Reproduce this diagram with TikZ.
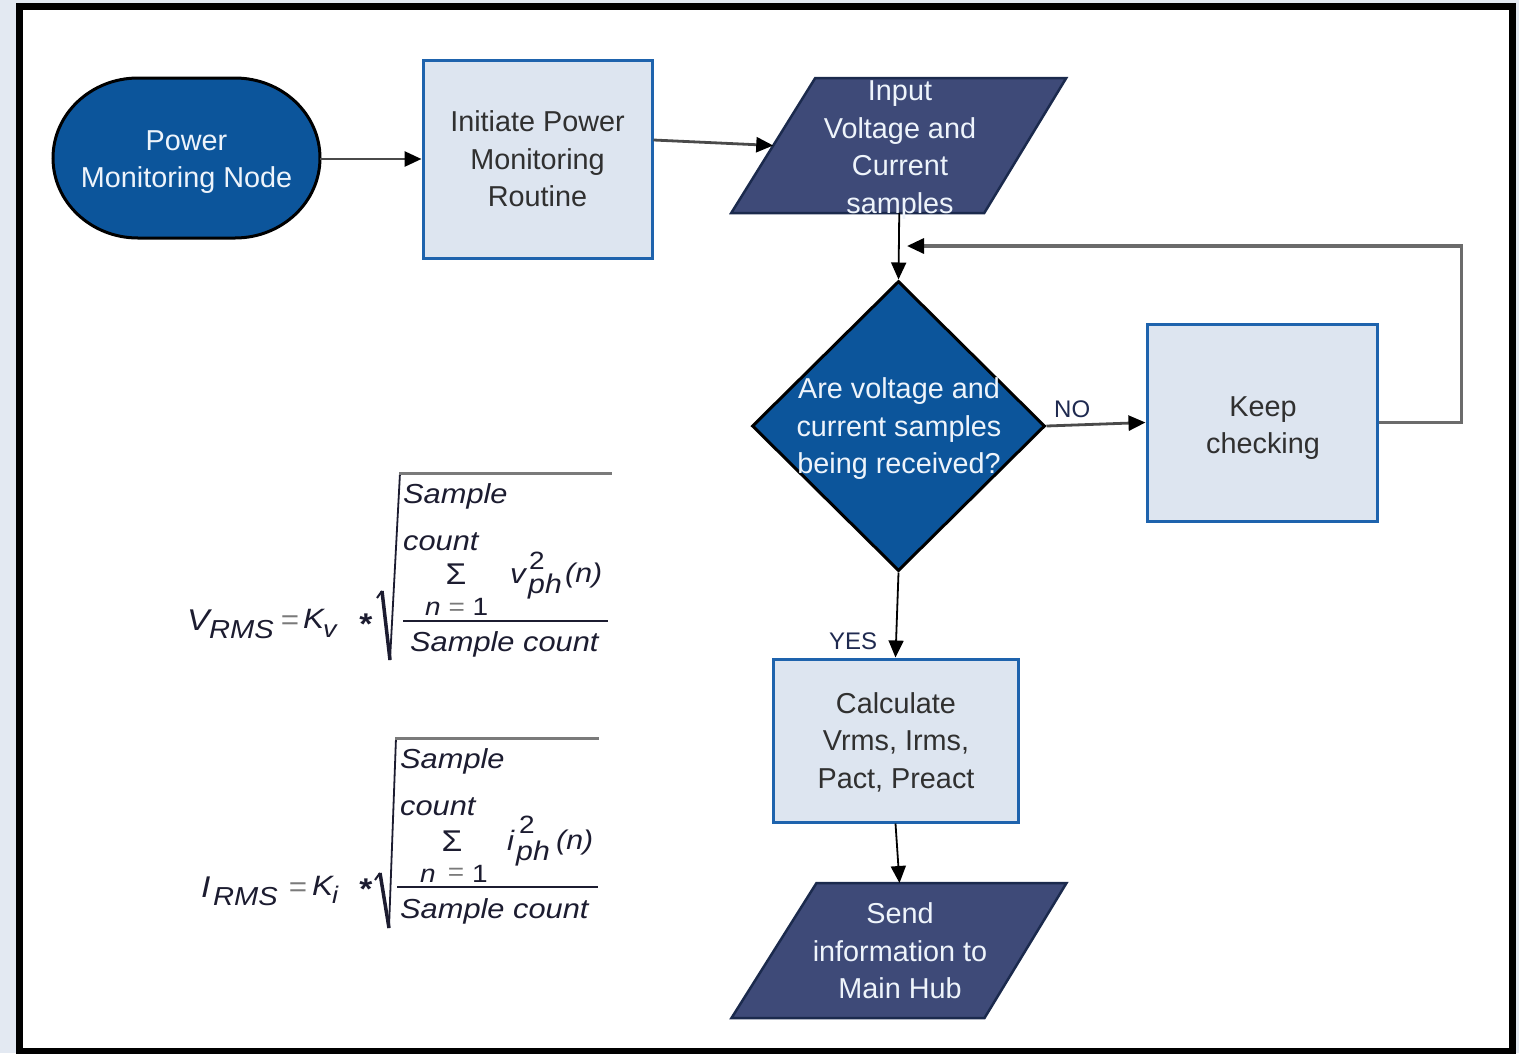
\documentclass[tikz,border=0pt]{standalone}
\usepackage{fontspec}
\setmainfont{Liberation Sans}
\newfontfamily\eqfont{Liberation Sans}[FakeStretch=1.12]
\usetikzlibrary{arrows.meta,shapes.geometric,calc}

\definecolor{pagebg}{HTML}{E3E9F2}
\definecolor{deepblue}{HTML}{0C559B}
\definecolor{slate}{HTML}{3E4A78}
\definecolor{slateline}{HTML}{1B2A4D}
\definecolor{procfill}{HTML}{DDE5F0}
\definecolor{procline}{HTML}{1E63AD}
\definecolor{proctext}{HTML}{303030}
\definecolor{lighttext}{HTML}{EEF4FB}
\definecolor{labelc}{HTML}{1F2A50}
\definecolor{eqc}{HTML}{1C1C30}
\definecolor{eqgray}{HTML}{7A7A7A}
\definecolor{wire}{HTML}{4A4A4A}
\definecolor{loopwire}{HTML}{6B6B6B}

\newcommand\setfs[2]{\fontsize{#1}{#2}\selectfont}
\newcommand\eqsz[1]{\eqfont\fontsize{#1}{#1}\selectfont}

\begin{document}
\begin{tikzpicture}[x=1pt,y=-1pt,
  txt/.style={font=\setfs{28.8}{37.5}, align=center, inner sep=0},
  darktxt/.style={txt, text=lighttext},
  proc/.style={rectangle, draw=procline, fill=procfill, line width=3pt,
    text=proctext, font=\setfs{28.8}{37.5}, align=center, inner sep=0},
  io/.style={fill=slate, draw=slateline, line width=2.5pt, line join=miter},
  tip/.style={-{Triangle[length=17pt,width=15pt,color=black]}},
  link/.style={tip, draw=wire, line width=2.8pt},
  vlink/.style={tip, draw=black, line width=1.8pt},
  looplink/.style={tip, draw=loopwire, line width=3.2pt},
  lab/.style={font=\setfs{24}{28}, text=labelc, anchor=base west, inner sep=0},
  eq/.style={anchor=base west, inner sep=0, text=eqc},
  eqop/.style={anchor=center, inner sep=0, text=eqgray},
]
\useasboundingbox (0,0) rectangle (1519,1053);

% page and frame
\fill[pagebg] (0,0) rectangle (1519,1053);
\fill[white] (19.5,6.5) rectangle (1512,1051);
\draw[line width=7pt] (19.5,6.5) rectangle (1512,1051);

% start terminal
\coordinate (startC) at (186.5,158);
\draw[fill=deepblue, draw=black, line width=3pt, shift={(startC)}]
  (-48.5,-80) -- (48.5,-80)
  arc[start angle=-90, end angle=90, x radius=85, y radius=80]
  -- (-48.5,80)
  arc[start angle=90, end angle=270, x radius=85, y radius=80] -- cycle;
\node[darktxt] (start) at (186.5,162) {Power\\Monitoring Node};
\coordinate (startE) at (320,159);

% initiate routine
\node[proc, minimum width=229, minimum height=198] (init) at (537.5,159)
  {Initiate Power\\Monitoring\\Routine};

% input samples
\coordinate (inpC) at (899.25,145.5);
\draw[io, shift={(inpC)}] (-84,-67.5) -- (167,-67.5) -- (85,67.5) -- (-168,67.5) -- cycle;
\node[darktxt] (inp) at (900,150) {Input\\Voltage and\\Current\\samples};
\coordinate (inpL) at ($(inpC)+(-126,0)$);
\coordinate (inpB) at ($(inpC)+(0,67.5)$);

% decision
\node[diamond, draw=black, fill=deepblue, line width=3pt, inner sep=0,
  minimum width=293, minimum height=290] (dec) at (898.5,426) {};
\node[darktxt] (decT) at (899,429) {Are voltage and\\current samples\\being received?};

% keep checking
\node[proc, minimum width=230, minimum height=197] (keep) at (1262,422.5) {};
\node[txt, text=proctext] (keepT) at (1263,428) {Keep\\checking};
\coordinate (loopEnd) at (907,246);

% calculation
\node[proc, minimum width=245, minimum height=163] (calc) at (895.5,740.5) {};
\node[txt, text=proctext] (calcT) at (896,742) {Calculate\\Vrms, Irms,\\Pact, Preact};

% send to hub
\coordinate (outC) at (899.5,950.5);
\draw[io, shift={(outC)}] (-83,-67.5) -- (167,-67.5) -- (85,67.5) -- (-168,67.5) -- cycle;
\node[darktxt] (out) at (900,951) {Send\\information to\\Main Hub};
\coordinate (outT) at ($(outC)+(0,-67.5)$);

% connectors
\draw[link] (startE) -- (init.west);
\draw[link] ([yshift=19pt]init.east) -- (inpL);
\draw[vlink] (inpB) -- (dec.north);
\draw[link] (dec.east) -- (keep.west);
\node[lab] (no) at (1054,417) {NO};
\draw[looplink] (keep.east) -- ++(83,0) |- (loopEnd);
\draw[vlink] (dec.south) -- (calc.north);
\node[lab] (yes) at (829,649) {YES};
\draw[vlink] (calc.south) -- (outT);

% V_RMS
\node[eq, font=\eqsz{30}\itshape] (vV) at (187,630) {V};
\node[eq, font=\eqsz{26}\itshape] (vRMS) at (209,638) {RMS};
\node[eqop, font=\eqsz{28}] (vEq) at (290,623) {=};
\node[eq, font=\eqsz{28}\itshape] (vK) at (303,628) {K};
\node[eq, font=\eqsz{24}\itshape] (vKs) at (323,637) {v};
\node[eqop, text=eqc, font=\eqsz{30}\bfseries] (vStar) at (366,624) {*};
\draw[eqc, line width=2pt, line join=round] (377,598) -- (382,591);
\draw[eqc, line width=3.5pt] (382,591) -- (390,660);
\draw[eqc, line width=1.8pt] (390,660) -- (400,473);
\draw[eqgray, line width=3pt] (399,473) -- (612,473);
\node[eq, font=\eqsz{27.5}\itshape] (vS1) at (403,503) {Sample};
\node[eq, font=\eqsz{27.5}\itshape] (vC1) at (403,550) {count};
\node[eqop, text=eqc, font=\eqsz{30}] (vSig) at (456,574) {Σ};
\node[eq, font=\eqsz{25}] (vN) at (425,615) {\itshape n {\upshape\color{eqgray}=} \upshape 1};
\node[eq, font=\eqsz{28}\itshape] (vv) at (510,583) {v};
\node[eq, font=\eqsz{25}] (vTwo) at (529,569) {2};
\node[eq, font=\eqsz{27}\itshape] (vph) at (528,593) {ph};
\node[eq, font=\eqsz{27}\itshape] (vn) at (565,582) {(n)};
\draw[eqc, line width=2.5pt] (403,621) -- (608,621);
\node[eq, font=\eqsz{27.5}\itshape] (vSC) at (410,651) {Sample count};

% I_RMS
\node[eq, font=\eqsz{30}\itshape] (iI) at (201,897) {I};
\node[eq, font=\eqsz{26}\itshape] (iRMS) at (213,905) {RMS};
\node[eqop, font=\eqsz{28}] (iEq) at (298,890) {=};
\node[eq, font=\eqsz{28}\itshape] (iK) at (312,895) {K};
\node[eq, font=\eqsz{24}\itshape] (iKs) at (332,903) {i};
\node[eqop, text=eqc, font=\eqsz{30}\bfseries] (iStar) at (366,889) {*};
\draw[eqc, line width=2pt, line join=round] (375,880) -- (380,873);
\draw[eqc, line width=3.5pt] (380,873) -- (389,928);
\draw[eqc, line width=1.8pt] (389,928) -- (396,738);
\draw[eqgray, line width=3pt] (395,738) -- (599,738);
\node[eq, font=\eqsz{27.5}\itshape] (iS1) at (400,768) {Sample};
\node[eq, font=\eqsz{27.5}\itshape] (iC1) at (400,815) {count};
\node[eqop, text=eqc, font=\eqsz{30}] (iSig) at (452,841) {Σ};
\node[eq, font=\eqsz{25}\itshape] (in1) at (420,882) {n};
\node[eqop, font=\eqsz{25}] (iNeq) at (456,874) {=};
\node[eq, font=\eqsz{25}] (in2) at (472,882) {1};
\node[eq, font=\eqsz{28}\itshape] (ii) at (507,850) {i};
\node[eq, font=\eqsz{25}] (iTwo) at (519,833) {2};
\node[eq, font=\eqsz{27}\itshape] (iph) at (516,860) {ph};
\node[eq, font=\eqsz{27}\itshape] (in) at (556,849) {(n)};
\draw[eqc, line width=2.5pt] (397,887) -- (598,887);
\node[eq, font=\eqsz{27.5}\itshape] (iSC) at (400,918) {Sample count};
\end{tikzpicture}
\end{document}
